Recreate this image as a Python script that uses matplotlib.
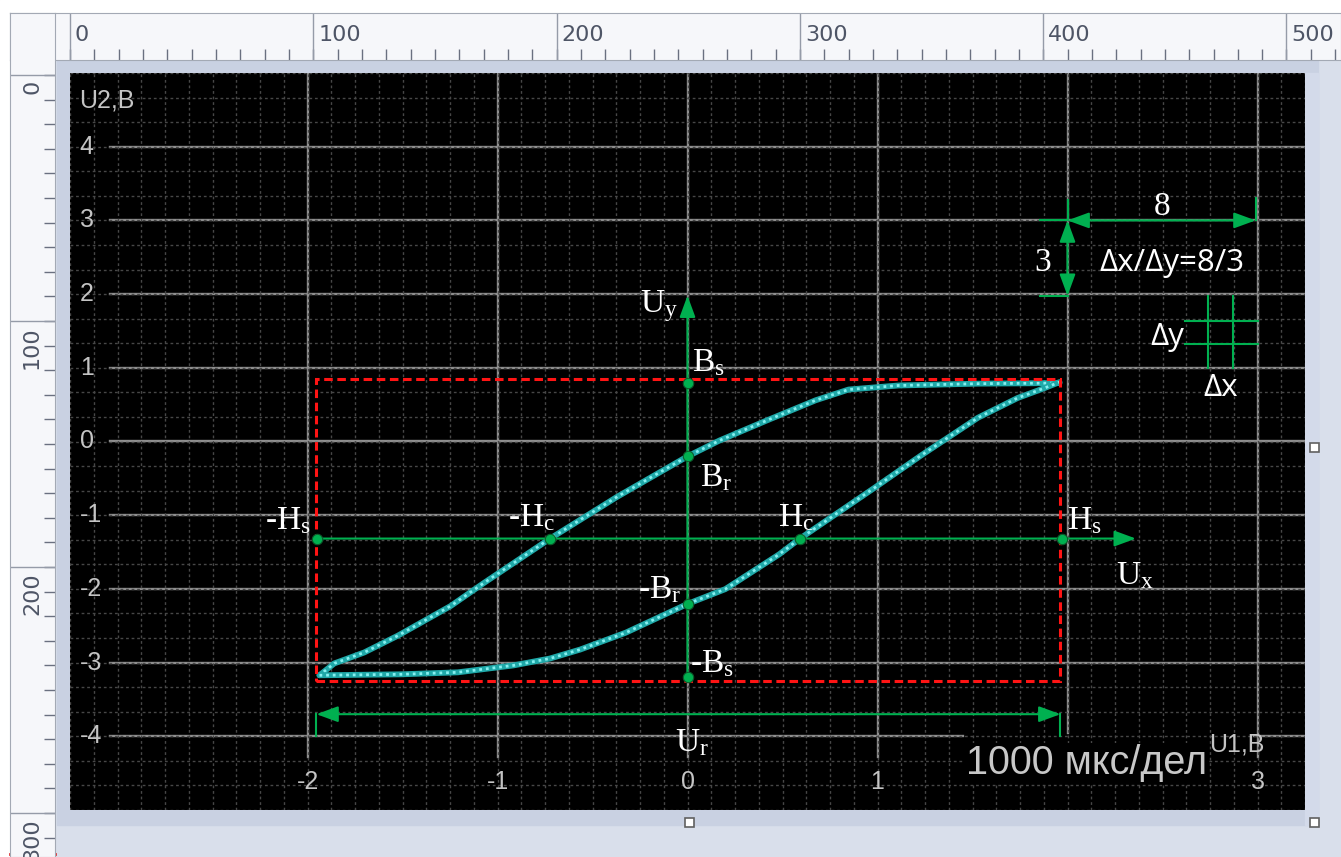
import numpy as np
import matplotlib
matplotlib.use('Agg')
from matplotlib import pyplot as plt
from matplotlib.patches import Rectangle

plt.rcParams['mathtext.fontset'] = 'custom'
plt.rcParams['mathtext.rm'] = 'Liberation Serif'
plt.rcParams['mathtext.it'] = 'Liberation Serif:italic'

W, H = 1341, 857

# hysteresis loop, volts (U1 across, U2 up)
upper_x = [1.958, 1.529, 1.110, 0.848, 0.675, 0.414, 0.168, 0.0, -0.372, -0.723,
           -1.073, -1.246, -1.524, -1.702, -1.859, -1.937]
upper_y = [0.793, 0.785, 0.760, 0.705, 0.560, 0.282, 0.013, -0.202, -0.753, -1.317,
           -1.922, -2.231, -2.634, -2.863, -3.011, -3.172]
lower_x = [-1.937, -1.508, -1.209, -0.916, -0.723, -0.565, -0.325, 0.0, 0.199, 0.482,
           0.592, 0.990, 1.230, 1.529, 1.738, 1.880, 1.958]
lower_y = [-3.172, -3.159, -3.132, -3.038, -2.944, -2.823, -2.594, -2.204, -2.003, -1.532,
           -1.317, -0.618, -0.188, 0.323, 0.591, 0.726, 0.806]

# marked points on the loop
pt_labels = [r'$\mathrm{B_s}$', r'$\mathrm{B_r}$', r'-$\mathrm{B_r}$', r'-$\mathrm{B_s}$',
             r'-$\mathrm{H_s}$', r'-$\mathrm{H_c}$', r'$\mathrm{H_c}$', r'$\mathrm{H_s}$']
pt_x = [0.0, 0.0, 0.0, 0.0, -1.948, -0.723, 0.592, 1.970]
pt_y = [0.793, -0.202, -2.204, -3.199, -1.317, -1.317, -1.317, -1.317]
# label offsets in pixels and alignment
pt_off = [(5, 12), (12, -30), (-6, 6), (3, 5), (-7, 9), (5, 12), (14, 12), (5, 9)]
pt_ha = ['left', 'left', 'right', 'left', 'right', 'right', 'right', 'left']

# saturation box
sat_x = [-1.953, 1.963]
sat_y = [-3.253, 0.847]

# scope grid and tick labels (the "2" label sits under the timebase caption)
x_major = [-2, -1, 0, 1, 2, 3]
x_labels = ['-2', '-1', '0', '1', '', '3']
y_major = [4, 3, 2, 1, 0, -1, -2, -3, -4]

# window rulers
ruler_top = [0, 100, 200, 300, 400, 500]
ruler_left = [0, 100, 200, 300]

GREEN = '#00b050'
GRID = '#8e8e8e'
LBL = '#c4c4c4'

fig = plt.figure(figsize=(W / 100, H / 100), dpi=100)
fig.patch.set_facecolor('#d9dfeb')

# background chrome in pixel coordinates
bg = fig.add_axes([0, 0, 1, 1])
bg.set_xlim(0, W)
bg.set_ylim(H, 0)
bg.axis('off')
bg.add_patch(Rectangle((0, 0), W, 13, color='white'))
bg.add_patch(Rectangle((0, 0), 10, H, color='white'))
bg.add_patch(Rectangle((57, 60), 1261, 765, color='#c9d1e2'))
bg.add_patch(Rectangle((1305, 73), 13, 752, color='#d3daea'))
bg.plot([10, 55], [854, 854], color='#e03030', lw=2)
for hx, hy in [(1315, 447), (690, 822), (1315, 822)]:
    bg.add_patch(Rectangle((hx - 4.5, hy - 4.5), 9, 9, facecolor='white',
                           edgecolor='#606060', lw=1.2, zorder=5))

# top ruler
top = fig.add_axes([10 / W, 1 - 60 / H, (W - 10) / W, 47 / H])
top.set_facecolor('#f6f7fa')
top.set_xlim((10 - 70) / 2.433, (W - 70) / 2.433)
top.set_ylim(0, 1)
top.set_xticks(np.arange(0, 530, 10))
top.set_yticks([])
top.tick_params(axis='x', direction='in', length=8, width=1, color='#6a7080',
                labelbottom=False)
for s in top.spines.values():
    s.set_color('#a3a9b4')
for v in ruler_top:
    top.axvline(v, color='#959ba8', lw=1)
    top.annotate(str(v), (v, 0.53), xytext=(5, 0), textcoords='offset pixels',
                 ha='left', va='center', fontsize=16, color='#4e5566',
                 family='DejaVu Sans')

# left ruler
left = fig.add_axes([10 / W, 0, 45 / W, (H - 13) / H])
left.set_facecolor('#f6f7fa')
left.set_ylim((H - 75) / 2.46, (13 - 75) / 2.46)
left.set_xlim(0, 1)
left.set_yticks(np.arange(0, 320, 10))
left.set_xticks([])
left.tick_params(axis='y', direction='in', length=8, width=1, color='#6a7080',
                 left=False, right=True, labelleft=False)
for s in left.spines.values():
    s.set_color('#a3a9b4')
for v in ruler_left:
    left.axhline(v, color='#959ba8', lw=1)
    left.annotate(str(v), (0.49, v), xytext=(0, -5), textcoords='offset pixels',
                  ha='center', va='top', rotation=90, fontsize=16, color='#4e5566',
                  family='DejaVu Sans')

# scope screen
ax = fig.add_axes([70 / W, (H - 810) / H, 1235 / W, 737 / H])
ax.set_facecolor('black')
ax.set_xlim((70 - 688) / 191, (1305 - 688) / 191)
ax.set_ylim((444 - 810) / 74.4, (444 - 73) / 74.4)
for s in ax.spines.values():
    s.set_visible(False)
ax.set_xticks([])
ax.set_yticks([])
ax.set_xticks(np.arange(-3.25, 3.3, 0.125), minor=True)
ax.set_yticks(np.arange(-5, 5.01, 1 / 3), minor=True)
ax.tick_params(which='both', length=0, labelbottom=False, labelleft=False)
ax.grid(True, which='minor', color='#474747', lw=1, ls=(0, (2, 2)))

x0, x1 = ax.get_xlim()
y0, y1 = ax.get_ylim()
for v in x_major:
    ax.plot([v, v], [-3.95 if v == 2 else -4.28, y1], color=GRID, lw=1.7, zorder=1)
for v in y_major:
    if v == -4:
        ax.plot([-3.04, 1.45], [v, v], color=GRID, lw=1.7, zorder=1)
        ax.plot([2.98, x1], [v, v], color=GRID, lw=1.7, zorder=1)
    else:
        ax.plot([-3.04, x1], [v, v], color=GRID, lw=1.7, zorder=1)

lbl_font = dict(family='Liberation Sans', fontsize=18, color=LBL)
for v, t in zip(x_major, x_labels):
    ax.text(v, -4.62, t, ha='center', va='center', **lbl_font)
for v in y_major:
    ax.text(-3.199, v, str(v), ha='left', va='center', **lbl_font)
ax.text(-3.204, 4.53, 'U2,B', ha='left', va='baseline', **lbl_font)
ax.text(2.745, -4.207, 'U1,B', ha='left', va='baseline', zorder=2, **lbl_font)
ax.text(1.466, -4.516, '1000 мкс/дел', ha='left', va='baseline',
        family='Liberation Sans', fontsize=28.5,
        color='#c8c8c8', zorder=3,
        bbox=dict(facecolor='black', edgecolor='none', pad=1))

# trace
for xs, ys in [(upper_x, upper_y), (lower_x, lower_y)]:
    ax.plot(xs, ys, color='#1fa8a8', lw=4.2, solid_capstyle='round', zorder=3)
    ax.plot(xs, ys, color='#86f0f0', lw=2.0, ls=(0, (1, 1.4)), zorder=3)

# saturation box
ax.add_patch(Rectangle((sat_x[0], sat_y[0]), sat_x[1] - sat_x[0], sat_y[1] - sat_y[0],
                       fill=False, edgecolor='#ff1414', lw=2.2, ls=(0, (2.8, 1.5)),
                       zorder=4))

head = '-|>,head_length=0.6,head_width=0.22'
dhead = '<|-|>,head_length=0.6,head_width=0.22'
arrow_kw = dict(color=GREEN, lw=1.5, mutation_scale=22, shrinkA=0, shrinkB=0)

# axes of the loop
ax.annotate('', xy=(0, 1.98), xytext=(0, pt_y[3]),
            arrowprops=dict(arrowstyle=head, **arrow_kw), zorder=5)
ax.annotate('', xy=(2.36, pt_y[4]), xytext=(pt_x[4], pt_y[4]),
            arrowprops=dict(arrowstyle=head, **arrow_kw), zorder=5)

# U_r span
ur_y = -3.70
ax.annotate('', xy=(sat_x[0], ur_y), xytext=(sat_x[1], ur_y),
            arrowprops=dict(arrowstyle=dhead, **arrow_kw), zorder=5)
for v in sat_x:
    ax.plot([v, v], [ur_y, -3.99], color=GREEN, lw=1.5, zorder=5)

# points
ax.plot(pt_x, pt_y, 'o', color=GREEN, ms=7.5, mec='#0b5a2a', mew=0.8, zorder=6)
serif = dict(family='Liberation Serif', fontsize=24, color='white', zorder=7)
for lab, px, py, off, ha in zip(pt_labels, pt_x, pt_y, pt_off, pt_ha):
    ax.annotate(lab, (px, py), xytext=off, textcoords='offset pixels',
                ha=ha, va='baseline', **serif)
ax.text(-0.251, 1.761, r'$\mathrm{U_y}$', ha='left', va='baseline', **serif)
ax.text(2.257, -1.935, r'$\mathrm{U_x}$', ha='left', va='baseline', **serif)
ax.text(-0.068, -4.207, r'$\mathrm{U_r}$', ha='left', va='baseline', **serif)

# division ratio sketch, upper right
ax.plot([1.853, 2.0], [3, 3], color=GREEN, lw=1.5, zorder=5)
ax.plot([1.853, 2.0], [1.976, 1.976], color=GREEN, lw=1.5, zorder=5)
ax.plot([2.0, 2.0], [3, 3.28], color=GREEN, lw=1.5, zorder=5)
ax.plot([2.99, 2.99], [3, 3.31], color=GREEN, lw=1.5, zorder=5)
ax.annotate('', xy=(2.0, 3), xytext=(2.99, 3),
            arrowprops=dict(arrowstyle=dhead, **arrow_kw), zorder=5)
ax.annotate('', xy=(2.0, 3), xytext=(2.0, 1.976),
            arrowprops=dict(arrowstyle=dhead, **arrow_kw), zorder=5)
ax.text(2.497, 3.078, '8', ha='center', va='baseline', **serif)
ax.text(1.869, 2.312, '3', ha='center', va='baseline', **serif)

sans = dict(family=['Open Sans', 'DejaVu Sans'], fontsize=22.5, color='white', zorder=7)
ax.text(2.168, 2.312, 'Δx/Δy=8/3', ha='left', va='baseline', **sans)
for v in [2.738, 2.869]:
    ax.plot([v, v], [0.995, 1.976], color=GREEN, lw=1.5, zorder=5)
for v in [1.640, 1.317]:
    ax.plot([2.618, 3.0], [v, v], color=GREEN, lw=1.5, zorder=5)
ax.text(2.613, 1.304, 'Δy', ha='right', va='baseline', **sans)
ax.text(2.717, 0.618, 'Δx', ha='left', va='baseline', **sans)

fig.savefig('out.png', dpi=100, facecolor=fig.get_facecolor())
